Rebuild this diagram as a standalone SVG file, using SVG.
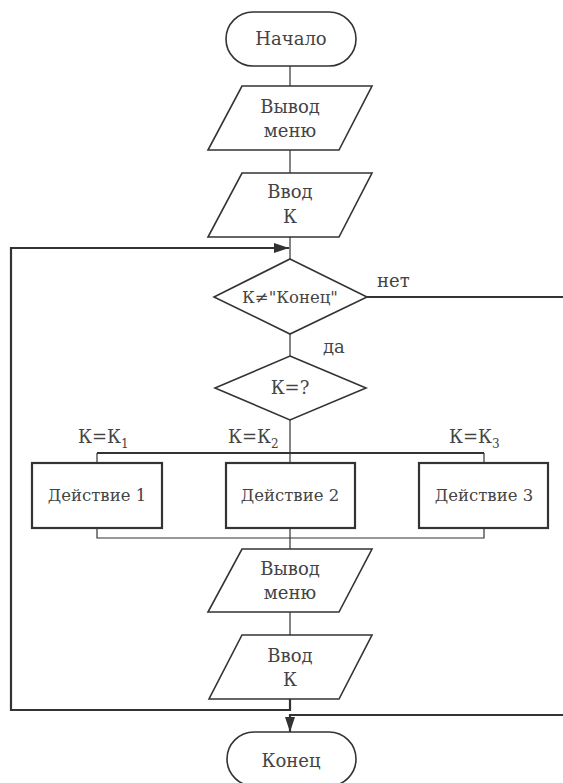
<svg xmlns="http://www.w3.org/2000/svg" width="563" height="783" viewBox="0 0 563 783">
<style>
  .shape { fill: #fff; stroke: #333; stroke-width: 1.6; }
  .box { fill: #fff; stroke: #333; stroke-width: 2.2; }
  .line { fill: none; stroke: #333; stroke-width: 1.2; }
  .thick { fill: none; stroke: #333; stroke-width: 2.2; }
  text { font-family: 'DejaVu Serif', serif; font-size: 18px; fill: #444; }
  .c { text-anchor: middle; }
  .sm { font-size: 16.5px; }
  .sub { font-size: 12px; }
</style>
<defs>
  <marker id="arr" markerWidth="16" markerHeight="10" refX="15" refY="5" orient="auto" markerUnits="userSpaceOnUse">
    <path d="M0,0 L15,5 L0,10 Z" fill="#333"/>
  </marker>
</defs>
<rect width="563" height="783" fill="#fff"/>
<g id="connectors">
  <line class="line" x1="290" y1="66" x2="290" y2="86"/>
  <line class="line" x1="290" y1="150" x2="290" y2="173"/>
  <line class="line" x1="290" y1="237" x2="290" y2="259"/>
  <line class="line" x1="290" y1="334" x2="290" y2="356"/>
  <line class="line" x1="290" y1="420" x2="290" y2="453"/>
  <line class="thick" x1="97" y1="453" x2="484" y2="453"/>
  <line class="line" x1="97" y1="453" x2="97" y2="463"/>
  <line class="line" x1="290" y1="453" x2="290" y2="463"/>
  <line class="line" x1="484" y1="453" x2="484" y2="463"/>
  <path class="line" d="M97,528 V538 H484 V528"/>
  <line class="line" x1="290" y1="528" x2="290" y2="549"/>
  <line class="line" x1="290" y1="612" x2="290" y2="635"/>
  <path class="thick" d="M290,699 V710 H11 V248 H289" marker-end="url(#arr)"/>
  <path class="thick" d="M367,297 H566 V715 H290 V732" marker-end="url(#arr)"/>
</g>
<g id="start">
  <rect class="shape" x="226" y="12" width="130" height="54" rx="27" ry="27"/>
  <text class="c" x="291" y="45">Начало</text>
</g>
<g id="output1">
  <polygon class="shape" points="242,86 372,86 339,150 208,150"/>
  <text class="c" x="290" y="113">Вывод</text>
  <text class="c" x="290" y="137">меню</text>
</g>
<g id="input1">
  <polygon class="shape" points="242,173 372,173 339,237 208,237"/>
  <text class="c" x="290" y="198">Ввод</text>
  <text class="c" x="290" y="223">К</text>
</g>
<g id="cond1">
  <polygon class="shape" points="290,259 367,297 290,334 214,297"/>
  <text class="c sm" x="290" y="303">К≠"Конец"</text>
  <text x="377" y="287">нет</text>
  <text x="323" y="353">да</text>
</g>
<g id="cond2">
  <polygon class="shape" points="290,356 366,388 290,420 215,388"/>
  <text class="c" x="290" y="394">К=?</text>
</g>
<g id="labels">
  <text x="78" y="443">К=К<tspan class="sub" dy="5">1</tspan></text>
  <text x="228" y="443">К=К<tspan class="sub" dy="5">2</tspan></text>
  <text x="449" y="443">К=К<tspan class="sub" dy="5">3</tspan></text>
</g>
<g id="action1">
  <rect class="box" x="32" y="463" width="130" height="65"/>
  <text class="c sm" x="97" y="501">Действие 1</text>
</g>
<g id="action2">
  <rect class="box" x="226" y="463" width="129" height="65"/>
  <text class="c sm" x="290" y="501">Действие 2</text>
</g>
<g id="action3">
  <rect class="box" x="419" y="463" width="129" height="65"/>
  <text class="c sm" x="484" y="501">Действие 3</text>
</g>
<g id="output2">
  <polygon class="shape" points="242,549 372,549 339,612 208,612"/>
  <text class="c" x="290" y="575">Вывод</text>
  <text class="c" x="290" y="599">меню</text>
</g>
<g id="input2">
  <polygon class="shape" points="242,635 372,635 339,699 209,699"/>
  <text class="c" x="290" y="662">Ввод</text>
  <text class="c" x="290" y="686">К</text>
</g>
<g id="end">
  <rect class="shape" x="227" y="732" width="129" height="54" rx="27" ry="27"/>
  <text class="c" x="291" y="767">Конец</text>
</g>
</svg>
